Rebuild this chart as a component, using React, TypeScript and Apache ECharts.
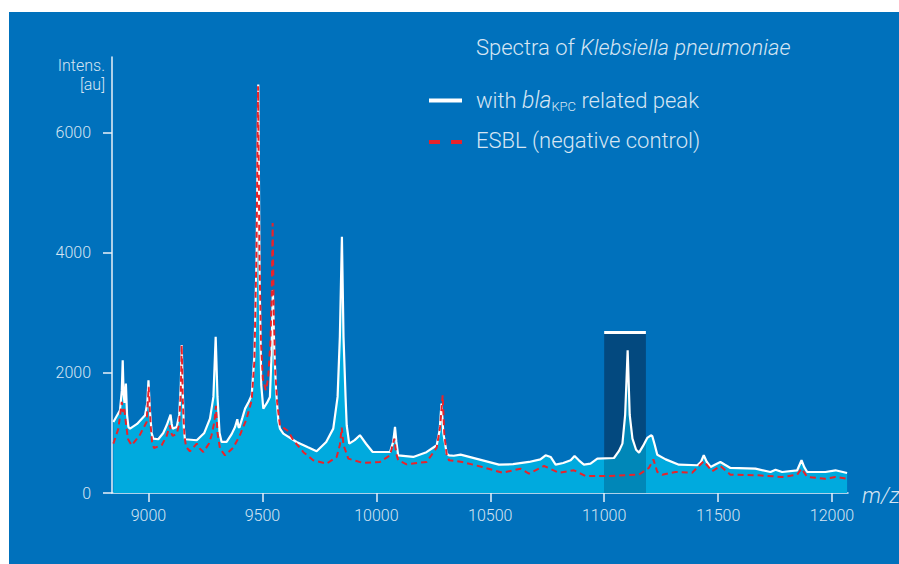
import React, { useEffect, useRef } from "react";
import * as echarts from "echarts";

// m/z positions and intensities of the bla_KPC spectrum (white line)
const kpcMz = [
  8846, 8875, 8883, 8887, 8891, 8895, 8901, 8906, 8912, 8919, 8950, 8985, 8995, 9000, 9006, 9014, 9021,
  9043, 9065, 9080, 9097, 9102, 9106, 9124, 9135, 9142, 9146, 9150, 9155, 9160, 9212, 9245, 9270, 9285,
  9295, 9303, 9312, 9321, 9343, 9365, 9380, 9390, 9395, 9399, 9412, 9424, 9440, 9453, 9465, 9475, 9482,
  9488, 9495, 9504, 9520, 9533, 9540, 9546, 9552, 9560, 9570, 9577, 9592, 9650, 9700, 9738, 9780, 9811,
  9830, 9840, 9849, 9856, 9865, 9870, 9881, 9905, 9928, 9955, 9984, 10060, 10074, 10082, 10088, 10096,
  10162, 10220, 10265, 10278, 10286, 10294, 10309, 10319, 10340, 10370, 10450, 10538, 10600, 10670,
  10720, 10743, 10765, 10787, 10820, 10853, 10870, 10890, 10911, 10940, 10970, 11043, 11065, 11080,
  11092, 11103, 11112, 11124, 11140, 11153, 11170, 11189, 11205, 11211, 11222, 11233, 11270, 11328,
  11409, 11425, 11437, 11450, 11467, 11490, 11510, 11530, 11554, 11664, 11730, 11752, 11781, 11847,
  11866, 11878, 11891, 11971, 12015, 12066,
];
const kpcIntensity = [
  1183, 1378, 1700, 2212, 1650, 1500, 1822, 1300, 1100, 1072, 1150, 1295, 1500, 1878, 1400, 1000, 905,
  895, 1000, 1128, 1305, 1150, 1072, 1100, 1300, 1800, 2462, 1800, 1100, 895, 878, 1000, 1238, 1600,
  2600, 1600, 1000, 850, 850, 980, 1100, 1228, 1100, 1088, 1250, 1405, 1520, 1628, 2300, 4000, 6800,
  3500, 1800, 1405, 1500, 1600, 2300, 3380, 2400, 1700, 1200, 1072, 988, 850, 760, 695, 850, 1072,
  1600, 2600, 4267, 2600, 1600, 1128, 822, 880, 962, 820, 683, 683, 850, 1100, 850, 628,
  600, 680, 795, 1050, 1488, 1000, 655, 628, 620, 638, 560, 472, 480, 517,
  560, 628, 600, 472, 500, 545, 617, 540, 472, 488, 572, 583, 700, 822,
  1300, 2378, 1300, 905, 720, 672, 780, 917, 960, 950, 800, 638, 560, 472,
  462, 520, 628, 520, 433, 480, 517, 470, 417, 405, 350, 388, 350, 378,
  545, 430, 350, 350, 378, 333,
];

// m/z positions and intensities of the ESBL negative control (red dashed line)
const esblMz = [
  8846, 8868, 8883, 8888, 8893, 8900, 8910, 8926, 8960, 8992, 9001, 9010, 9016, 9024, 9058, 9080, 9087,
  9094, 9100, 9106, 9124, 9135, 9142, 9146, 9151, 9158, 9165, 9182, 9195, 9212, 9225, 9241, 9265, 9277,
  9290, 9296, 9303, 9314, 9336, 9372, 9400, 9431, 9453, 9465, 9474, 9481, 9487, 9494, 9502, 9515, 9525,
  9535, 9541, 9545, 9550, 9557, 9565, 9577, 9614, 9636, 9680, 9723, 9782, 9826, 9840, 9848, 9856, 9877,
  9943, 10016, 10060, 10079, 10088, 10096, 10133, 10221, 10265, 10280, 10291, 10298, 10309, 10319,
  10377, 10465, 10553, 10633, 10670, 10736, 10801, 10867, 10918, 11021, 11152, 11196, 11216, 11233,
  11255, 11313, 11386, 11437, 11474, 11510, 11554, 11678, 11781, 11847, 11866, 11891, 11971, 12015, 12066,
];
const esblIntensity = [
  822, 1072, 1517, 1350, 1433, 1200, 900, 795, 950, 1183, 1767, 1100, 850, 750, 795, 950, 1045,
  1128, 1000, 950, 988, 1150, 1700, 2462, 1500, 950, 767, 695, 750, 822, 740, 683, 820, 962,
  1200, 1450, 1000, 738, 628, 755, 950, 1238, 1545, 2200, 4000, 6772, 4000, 2500, 1900, 1710, 1900,
  2500, 3300, 4495, 3000, 2000, 1500, 1128, 1028, 878, 680, 545, 488, 600, 800, 1088, 800, 572,
  500, 517, 628, 905, 650, 545, 478, 517, 755, 1100, 1628, 1000, 628, 545,
  517, 433, 338, 405, 322, 450, 338, 378, 283, 283, 305, 417, 560, 350,
  305, 350, 338, 528, 362, 450, 305, 295, 267, 305, 405, 267, 238, 267, 238,
];

const xTicks = [9000, 9500, 10000, 10500, 11000, 11500, 12000];
const yTicks = [0, 2000, 4000, 6000];
const xRange = [8840, 12070];
const yRange = [0, 7260];
const kpcWindow = [11000, 11183];
const kpcWindowTop = 2670;

const titleText = "{n|Spectra of }{i|Klebsiella pneumoniae}";
const legendKpcText = "{n|with }{i|bla}{s|KPC}{n| related peak}";
const legendEsblText = "ESBL (negative control)";
const yAxisTitle = "Intens.\n[au]";
const xAxisTitle = "m/z";

const FONT = "Roboto, 'Liberation Sans', Arial, sans-serif";
const TXT = "#d6e5f3";
const AXIS = "#e9f1f9";

export default function App() {
  const ref = useRef<HTMLDivElement>(null);
  useEffect(() => {
    if (!ref.current) return;
    const chart = echarts.init(ref.current, null, { renderer: "svg" });
    const kpcData = kpcMz.map((m, i) => [m, kpcIntensity[i]]);
    const esblData = esblMz.map((m, i) => [m, esblIntensity[i]]);
    const plain = (v: number) => String(v);
    chart.setOption({
      animation: false,
      backgroundColor: "transparent",
      textStyle: { fontFamily: FONT },
      grid: { left: 112, right: 51, top: 57, bottom: 71, containLabel: false },
      xAxis: {
        type: "value",
        min: xRange[0],
        max: xRange[1],
        splitLine: { show: false },
        axisLine: { show: true, lineStyle: { color: AXIS, width: 1.5 } },
        axisTick: { show: true, length: 9, customValues: xTicks, lineStyle: { color: AXIS, width: 1.5 } },
        axisLabel: {
          customValues: xTicks,
          formatter: plain,
          color: TXT,
          fontSize: 16,
          fontWeight: 300,
          fontFamily: FONT,
          margin: 14,
        },
      },
      yAxis: {
        type: "value",
        min: yRange[0],
        max: yRange[1],
        splitLine: { show: false },
        axisLine: { show: true, lineStyle: { color: AXIS, width: 1.5 } },
        axisTick: { show: true, length: 9, customValues: yTicks, lineStyle: { color: AXIS, width: 1.5 } },
        axisLabel: {
          customValues: yTicks,
          formatter: plain,
          color: TXT,
          fontSize: 16,
          fontWeight: 300,
          fontFamily: FONT,
          margin: 21,
        },
      },
      visualMap: {
        type: "piecewise",
        show: false,
        seriesIndex: 1,
        dimension: 0,
        pieces: [{ gte: kpcWindow[0], lte: kpcWindow[1], color: "#0087b8" }],
        outOfRange: { color: "#00aade" },
      },
      series: [
        {
          type: "line",
          z: 1,
          data: [],
          silent: true,
          markArea: {
            z: 1,
            silent: true,
            itemStyle: { color: "#03497f" },
            data: [[{ coord: [kpcWindow[0], 0] }, { coord: [kpcWindow[1], kpcWindowTop] }]],
          },
          markLine: {
            z: 1,
            silent: true,
            symbol: "none",
            label: { show: false },
            lineStyle: { color: "#ffffff", width: 3, type: "solid" },
            data: [[{ coord: [kpcWindow[0], kpcWindowTop] }, { coord: [kpcWindow[1], kpcWindowTop] }]],
          },
        },
        {
          name: "area",
          type: "line",
          z: 2,
          data: kpcData,
          showSymbol: false,
          silent: true,
          lineStyle: { width: 0 },
          areaStyle: { opacity: 1 },
        },
        {
          name: "kpc",
          type: "line",
          z: 3,
          data: kpcData,
          showSymbol: false,
          silent: true,
          lineStyle: { color: "#ffffff", width: 2.2 },
          itemStyle: { color: "#ffffff" },
        },
        {
          name: "esbl",
          type: "line",
          z: 4,
          data: esblData,
          showSymbol: false,
          silent: true,
          lineStyle: { color: "#e8232a", width: 2, type: [6, 4] },
          itemStyle: { color: "#e8232a" },
        },
      ],
      graphic: [
        {
          type: "text",
          x: 476,
          y: 47,
          style: {
            text: titleText,
            fill: TXT,
            verticalAlign: "middle",
            rich: {
              n: { fontSize: 22, fontWeight: 300, fontFamily: FONT, fill: TXT, lineHeight: 26 },
              i: { fontSize: 22, fontWeight: 300, fontStyle: "italic", fontFamily: FONT, fill: TXT, lineHeight: 26 },
            },
          },
        },
        {
          type: "line",
          shape: { x1: 429, y1: 100.5, x2: 462, y2: 100.5 },
          style: { stroke: "#ffffff", lineWidth: 4 },
        },
        {
          type: "text",
          x: 476,
          y: 100,
          style: {
            text: legendKpcText,
            fill: TXT,
            verticalAlign: "middle",
            rich: {
              n: { fontSize: 22, fontWeight: 300, fontFamily: FONT, fill: TXT, lineHeight: 26 },
              i: { fontSize: 23, fontWeight: 300, fontStyle: "italic", fontFamily: FONT, fill: TXT, lineHeight: 26 },
              s: { fontSize: 13, fontWeight: 300, fontFamily: FONT, fill: TXT, lineHeight: 10, verticalAlign: "bottom" },
            },
          },
        },
        {
          type: "line",
          shape: { x1: 429, y1: 142, x2: 462, y2: 142 },
          style: { stroke: "#e8232a", lineWidth: 4, lineDash: [11, 11] },
        },
        {
          type: "text",
          x: 476,
          y: 140,
          style: {
            text: legendEsblText,
            fill: TXT,
            fontSize: 22,
            fontWeight: 300,
            fontFamily: FONT,
            verticalAlign: "middle",
          },
        },
        {
          type: "text",
          x: 105,
          y: 56,
          style: {
            text: yAxisTitle,
            fill: TXT,
            fontSize: 16,
            fontWeight: 300,
            fontFamily: FONT,
            lineHeight: 19,
            align: "right",
            verticalAlign: "top",
          },
        },
        {
          type: "text",
          x: 862,
          y: 495,
          style: {
            text: xAxisTitle,
            fill: TXT,
            fontSize: 22,
            fontWeight: 300,
            fontStyle: "italic",
            fontFamily: FONT,
            verticalAlign: "middle",
          },
        },
      ],
    });
    return () => chart.dispose();
  }, []);
  return (
    <div style={{ position: "fixed", left: 0, top: 0, width: 899, height: 564, background: "#ffffff" }}>
      <div style={{ position: "absolute", left: 9, top: 12, width: 890, height: 552, background: "#0071bc" }} />
      <div ref={ref} style={{ position: "absolute", left: 0, top: 0, width: 899, height: 564 }} />
    </div>
  );
}
